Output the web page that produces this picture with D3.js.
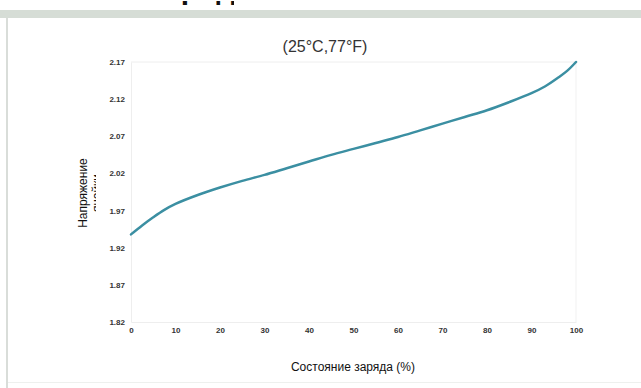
<!DOCTYPE html>
<html><head><meta charset="utf-8">
<script src="https://cdn.jsdelivr.net/npm/d3@7"></script>
<style>body{margin:0;background:#fff;}svg{display:block;font-family:"Liberation Sans",Arial,sans-serif;}</style>
</head><body><svg id="c" width="641" height="388"></svg>
<script>
const soc = [0, 2.5, 5, 7.5, 10, 15, 20, 25, 30, 35, 40, 45, 50, 55, 60, 65, 70, 75, 80, 85, 90, 93, 96, 98, 100];
const voltage = [1.938, 1.950, 1.961, 1.971, 1.979, 1.991, 2.001, 2.010, 2.018, 2.027, 2.036, 2.045, 2.053, 2.061, 2.069, 2.078, 2.087, 2.096, 2.105, 2.116, 2.128, 2.137, 2.149, 2.158, 2.170];
const yTicks = [1.82, 1.87, 1.92, 1.97, 2.02, 2.07, 2.12, 2.17];
const xTicks = [0, 10, 20, 30, 40, 50, 60, 70, 80, 90, 100];
const pageTitle = "Уровень заряда";
const title = "(25°C,77°F)";
const xTitle = "Состояние заряда (%)";
const yTitle1 = "Напряжение";
const yTitle2 = "ячейки";

const svg = d3.select("#c");
// page frame
svg.append("rect").attr("x",0).attr("y",10).attr("width",641).attr("height",8).attr("fill","#d6ddd6");
svg.append("rect").attr("x",6).attr("y",18).attr("width",2).attr("height",370).attr("fill","#d9ddd9");
svg.append("rect").attr("x",8).attr("y",382).attr("width",633).attr("height",1).attr("fill","#eef0ee");
svg.append("clipPath").attr("id","tc").append("rect").attr("x",182).attr("y",1).attr("width",52).attr("height",9);
svg.append("g").attr("clip-path","url(#tc)").append("text").attr("x",252).attr("y",-1).attr("text-anchor","end").attr("font-size",30).attr("font-weight","bold").attr("fill","#111").text(pageTitle);

const x = d3.scaleLinear().domain([0,100]).range([131,576]);
const y = d3.scaleLinear().domain([1.82,2.17]).range([322,62]);

// faint grid box
svg.append("line").attr("x1",x(0)).attr("x2",x(100)).attr("y1",y(2.17)).attr("y2",y(2.17)).attr("stroke","#eeeeee");
svg.append("line").attr("x1",x(100)).attr("x2",x(100)).attr("y1",y(2.17)).attr("y2",y(1.82)).attr("stroke","#f1f1f1");

const yAxis = svg.append("g").attr("transform",`translate(${x(0)},0)`)
  .call(d3.axisLeft(y).tickValues(yTicks).tickSize(0).tickPadding(6).tickFormat(d3.format(".2f")));
yAxis.select(".domain").attr("stroke","#eeeeee");
yAxis.selectAll("text").attr("font-size",8).attr("font-weight","bold").attr("fill","#333").attr("font-family","'Liberation Sans Narrow','Liberation Sans',Arial");

const xAxis = svg.append("g").attr("transform",`translate(0,${y(1.82)})`)
  .call(d3.axisBottom(x).tickValues(xTicks).tickSize(0).tickPadding(5).tickFormat(d3.format("d")));
xAxis.select(".domain").attr("stroke","#eeeeee");
xAxis.selectAll("text").attr("font-size",8).attr("font-weight","bold").attr("fill","#333").attr("font-family","'Liberation Sans Narrow','Liberation Sans',Arial");

const data = soc.map((s,i)=>({s, v: voltage[i]}));
svg.append("path").datum(data)
  .attr("d", d3.line().x(d=>x(d.s)).y(d=>y(d.v)).curve(d3.curveCatmullRom.alpha(0.5)))
  .attr("fill","none").attr("stroke","#3b8fa2").attr("stroke-width",2.5).attr("stroke-linecap","round");

svg.append("text").attr("x",325).attr("y",52).attr("text-anchor","middle").attr("font-size",16).attr("fill","#333").text(title);
svg.append("text").attr("x",353).attr("y",371).attr("text-anchor","middle").attr("font-size",12).attr("fill","#111").text(xTitle);

svg.append("clipPath").attr("id","yc").append("rect").attr("x",70).attr("y",100).attr("width",26).attr("height",200);
const yt = svg.append("g").attr("clip-path","url(#yc)");
yt.append("text").attr("transform","translate(87,193) rotate(-90)").attr("text-anchor","middle").attr("font-size",12).attr("fill","#111").text(yTitle1);
yt.append("text").attr("transform","translate(101,193) rotate(-90)").attr("text-anchor","middle").attr("font-size",12).attr("fill","#111").text(yTitle2);
</script></body></html>
